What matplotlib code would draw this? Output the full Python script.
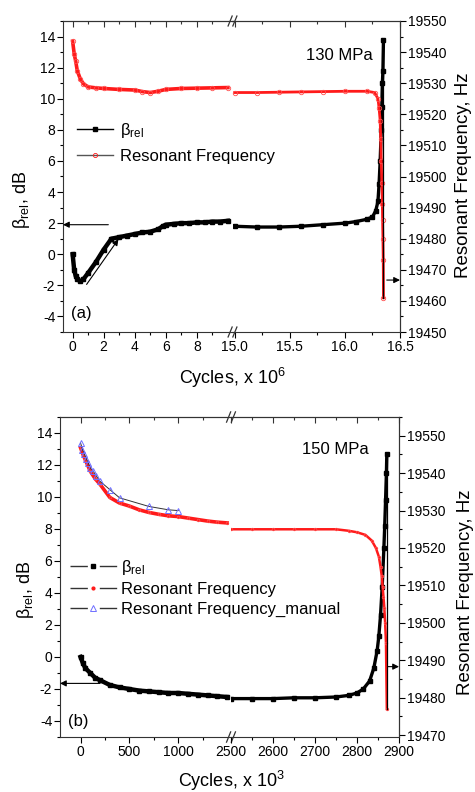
import matplotlib
matplotlib.use("Agg")
import matplotlib.pyplot as plt
from matplotlib.lines import Line2D
from matplotlib.ticker import MultipleLocator, FixedLocator, FormatStrFormatter

plt.rcParams['font.family'] = ['Liberation Sans', 'DejaVu Sans']
plt.rcParams['mathtext.fontset'] = 'custom'
plt.rcParams['mathtext.rm'] = 'Liberation Sans'
plt.rcParams['mathtext.it'] = 'Liberation Sans'
plt.rcParams['axes.unicode_minus'] = False

# ---- panel (a): 130 MPa, cycles x 10^6 ----
a_beta_x_left = [0.0, 0.1, 0.2, 0.3, 0.5, 0.7, 1.0, 1.5, 2.0, 2.5, 3.0, 3.5, 4.0, 4.5, 5.0, 5.5, 5.8, 6.0, 6.5, 7.0, 7.5, 8.0, 8.5, 9.0, 9.5, 10.0]
a_beta_left = [0.0, -1.0, -1.4, -1.6, -1.75, -1.6, -1.2, -0.5, 0.3, 1.0, 1.1, 1.2, 1.3, 1.4, 1.45, 1.6, 1.8, 1.9, 1.95, 2.0, 2.0, 2.05, 2.05, 2.1, 2.1, 2.15]
a_freq_x_left = [0.0, 0.1, 0.2, 0.3, 0.5, 0.7, 1.0, 1.5, 2.0, 3.0, 4.0, 4.5, 5.0, 5.5, 6.0, 7.0, 8.0, 9.0, 10.0]
a_freq_left = [19543.5, 19539.5, 19537.0, 19534.0, 19531.3, 19529.8, 19528.8, 19528.5, 19528.3, 19528.0, 19527.8, 19527.3, 19527.0, 19527.4, 19528.0, 19528.3, 19528.4, 19528.5, 19528.6]

a_beta_x_right = [15.0, 15.2, 15.4, 15.6, 15.8, 16.0, 16.1, 16.2, 16.25, 16.28, 16.3, 16.31, 16.32, 16.33, 16.335, 16.34, 16.345, 16.35]
a_beta_right = [1.8, 1.75, 1.75, 1.8, 1.9, 2.0, 2.1, 2.25, 2.4, 2.8, 3.4, 4.5, 6.0, 8.0, 9.5, 11.0, 11.8, 13.8]
a_freq_x_right = [15.0, 15.2, 15.4, 15.6, 15.8, 16.0, 16.2, 16.27, 16.3, 16.31, 16.32, 16.325, 16.33, 16.335, 16.34, 16.342, 16.345, 16.348, 16.35]
a_freq_right = [19527.0, 19527.0, 19527.1, 19527.2, 19527.3, 19527.4, 19527.4, 19527.0, 19525.0, 19522.0, 19518.0, 19512.0, 19505.0, 19498.0, 19491.0, 19486.0, 19480.0, 19473.0, 19461.0]

# ---- panel (b): 150 MPa, cycles x 10^3 ----
b_x_left = [0, 25, 50, 100, 150, 200, 300, 400, 500, 600, 700, 800, 900, 1000, 1100, 1200, 1300, 1400, 1500]
b_beta_left = [0.0, -0.4, -0.7, -1.0, -1.3, -1.45, -1.75, -1.9, -2.0, -2.1, -2.15, -2.2, -2.25, -2.25, -2.3, -2.35, -2.4, -2.45, -2.5]
b_freq_left = [19546.8, 19545.0, 19543.5, 19540.5, 19538.5, 19537.0, 19533.5, 19532.0, 19531.2, 19530.2, 19529.5, 19529.0, 19528.6, 19528.4, 19528.0, 19527.6, 19527.2, 19526.9, 19526.7]

b_beta_x_right = [2500, 2550, 2600, 2650, 2700, 2750, 2780, 2800, 2815, 2830, 2840, 2848, 2852, 2856, 2860, 2864, 2866, 2868, 2870, 2871]
b_beta_right = [-2.6, -2.6, -2.6, -2.55, -2.55, -2.5, -2.4, -2.25, -2.0, -1.5, -0.7, 0.4, 1.3, 2.6, 4.4, 6.8, 8.2, 9.8, 11.5, 12.7]
b_freq_x_right = [2500, 2550, 2600, 2650, 2700, 2750, 2780, 2800, 2820, 2835, 2845, 2852, 2856, 2859, 2861, 2863, 2865, 2867, 2869, 2871]
b_freq_right = [19525.0, 19525.0, 19525.0, 19525.0, 19525.0, 19525.0, 19524.6, 19524.2, 19523.5, 19522.0, 19520.0, 19517.7, 19515.0, 19512.4, 19509.7, 19507.0, 19504.0, 19500.0, 19494.7, 19477.0]

b_manual_x = [0, 20, 40, 60, 80, 100, 130, 160, 200, 300, 400, 700, 900, 1000]
b_manual_freq = [19548.1, 19546.3, 19545.0, 19543.8, 19542.7, 19541.4, 19540.5, 19539.3, 19537.8, 19535.6, 19533.4, 19531.1, 19530.2, 19530.0]

W, H = 475, 792
RED = '#ff1a1a'
BLUE = '#6f6fff'


def px_rect(left, right, top, bottom):
    return [left / W, 1 - bottom / H, (right - left) / W, (bottom - top) / H]


def style_axes(ax, xmaj, xmin, side):
    ax.xaxis.set_major_locator(FixedLocator(xmaj))
    ax.xaxis.set_minor_locator(FixedLocator(xmin))
    ax.tick_params(axis='x', which='major', direction='out', length=4, width=0.8, labelsize=10, pad=2)
    ax.tick_params(axis='x', which='minor', direction='out', length=2.5, width=0.8)
    top = ax.secondary_xaxis('top')
    top.xaxis.set_major_locator(FixedLocator(xmaj))
    top.xaxis.set_minor_locator(FixedLocator(xmin))
    top.tick_params(axis='x', which='both', direction='in', labeltop=False, color='#333333')
    top.tick_params(which='major', length=4, width=0.8)
    top.tick_params(which='minor', length=2.5, width=0.8)
    top.spines['top'].set_linewidth(0.8)
    top.spines['top'].set_color('#333333')
    for s in ax.spines.values():
        s.set_linewidth(0.8)
        s.set_color('#333333')
    if side == 'left':
        ax.spines['right'].set_visible(False)
        ax.yaxis.set_major_locator(MultipleLocator(2))
        ax.yaxis.set_minor_locator(MultipleLocator(1))
        ax.tick_params(axis='y', which='both', right=False, left=True)
        ax.tick_params(axis='y', which='major', direction='out', length=4, width=0.8, labelsize=10, pad=1.5)
        ax.tick_params(axis='y', which='minor', direction='out', length=2.5, width=0.8)
    else:
        ax.spines['left'].set_visible(False)
        ax.tick_params(axis='y', which='both', left=False, right=False, labelleft=False)
        ax.patch.set_visible(False)


def break_marks(ax):
    for dx in (-0.014, 0.014):
        for y0 in (0.0, 1.0):
            ax.plot([1 + dx - 0.012, 1 + dx + 0.012], [y0 - 0.016, y0 + 0.016],
                    transform=ax.transAxes, color='#333333', lw=0.9, clip_on=False, zorder=10)


def panel(fig, box, xl, xr, xticks_l, xticks_r, beta_lim, freq_lim, freq_major):
    left, brk, right, top, bottom = box
    axL = fig.add_axes(px_rect(left, brk, top, bottom))
    axR = fig.add_axes(px_rect(brk, right, top, bottom))
    axL2 = axL.twinx()
    axR2 = axR.twinx()
    axL.set_xlim(*xl)
    axR.set_xlim(*xr)
    axL.set_ylim(*beta_lim)
    axR.set_ylim(*beta_lim)
    axL2.set_ylim(*freq_lim)
    axR2.set_ylim(*freq_lim)
    style_axes(axL, xticks_l[0], xticks_l[1], 'left')
    style_axes(axR, xticks_r[0], xticks_r[1], 'right')
    for s in axL2.spines.values():
        s.set_visible(False)
    axL2.tick_params(axis='y', which='both', left=False, right=False, labelleft=False, labelright=False)
    for k in ('left', 'top', 'bottom'):
        axR2.spines[k].set_visible(False)
    axR2.spines['right'].set_linewidth(0.8)
    axR2.spines['right'].set_color('#333333')
    axR2.yaxis.set_major_locator(MultipleLocator(freq_major))
    axR2.yaxis.set_minor_locator(MultipleLocator(freq_major / 2))
    axR2.tick_params(axis='y', which='both', left=False)
    axR2.tick_params(axis='y', which='major', direction='out', length=4, width=0.8, labelsize=10, pad=2)
    axR2.tick_params(axis='y', which='minor', direction='out', length=2.5, width=0.8)
    break_marks(axL)
    return axL, axR, axL2, axR2


def drop_line(ax, ax2, x, beta_top, freq_bottom):
    # vertical line from last beta point down to last frequency point (drawn on frequency axis)
    top_hz = ax2.transData.inverted().transform(ax.transData.transform((x, beta_top)))[1]
    ax2.plot([x, x], [freq_bottom, top_hz], color='black', lw=0.9, zorder=5)


fig = plt.figure(figsize=(W / 100, H / 100), dpi=100)

# ================= panel (a) =================
axL, axR, axL2, axR2 = panel(fig, (63, 232.5, 400, 21, 332), (-0.62, 10.3), (14.98, 16.5),
                             ([0, 2, 4, 6, 8], [1, 3, 5, 7, 9]),
                             ([15.0, 15.5, 16.0, 16.5], [15.25, 15.75, 16.25]),
                             (-5, 15), (19450, 19550), 10)
axR.xaxis.set_major_formatter(FormatStrFormatter('%.1f'))

axL2.plot(a_freq_x_left, a_freq_left, color=RED, lw=2.6, marker='o', ms=3.2, mfc='none', mec='#ff5050', mew=0.6)
axR2.plot(a_freq_x_right, a_freq_right, color=RED, lw=2.0, marker='o', ms=3.2, mfc='none', mec='#ff5050', mew=0.6)
axL.plot(a_beta_x_left, a_beta_left, color='black', lw=3.2, marker='s', ms=2.2)
axR.plot(a_beta_x_right, a_beta_right, color='black', lw=2.4, marker='s', ms=2.2)
drop_line(axR, axR2, a_beta_x_right[-1], a_beta_right[-1], a_freq_right[-1])

arw = dict(arrowstyle='-|>', color='black', lw=0.8, mutation_scale=9, shrinkA=0, shrinkB=0)
axL.annotate('', xy=(0, 1.9), xycoords=('axes fraction', 'data'), xytext=(2.3, 1.9), textcoords='data', arrowprops=arw)
axL.annotate('', xy=(2.95, 0.97), xytext=(0.9, -1.94), arrowprops=arw)
axR2.annotate('', xy=(1, 19466.7), xycoords=('axes fraction', 'data'), xytext=(16.38, 19466.7), textcoords='data', arrowprops=arw)

axR.text(0.64, 0.89, '130 MPa', transform=axR.transAxes, ha='center', va='center', fontsize=12)
axL.text(0.106, 0.061, '(a)', transform=axL.transAxes, ha='center', va='center', fontsize=12)

hA = [Line2D([], [], color='black', lw=1.0, marker='s', ms=2.5),
      Line2D([], [], color='#555555', lw=1.0, marker='o', ms=3, mfc='none', mec=RED, mew=0.6)]
fig.legend(hA, ['β$_{\\rm rel}$', 'Resonant Frequency'], loc='center left',
           bbox_to_anchor=(77 / W, 1 - 142.5 / H), frameon=False, fontsize=12,
           handlelength=2.15, handletextpad=0.45, labelspacing=0.55, borderpad=0, borderaxespad=0)

fig.text(232 / W, 1 - 378 / H, 'Cycles, x 10$^6$', ha='center', va='center', fontsize=13)
fig.text(22 / W, 1 - 200 / H, 'β$_{\\rm rel}$, dB', ha='center', va='center', rotation=90, fontsize=13)
fig.text(463 / W, 1 - 175 / H, 'Resonant Frequency, Hz', ha='center', va='center', rotation=90, fontsize=13.5)

# ================= panel (b) =================
bxL, bxR, bxL2, bxR2 = panel(fig, (60, 231, 399, 417, 737), (-210, 1540), (2500, 2900),
                             ([0, 500, 1000], [250, 750, 1250]),
                             ([2500, 2600, 2700, 2800, 2900], [2550, 2650, 2750, 2850]),
                             (-5, 15), (19469.5, 19555), 10)

bxL2.plot(b_x_left, b_freq_left, color=RED, lw=2.6, marker='o', ms=2, mfc=RED, mec='#ff6060', mew=0.4)
bxR2.plot(b_freq_x_right, b_freq_right, color=RED, lw=1.8, marker='o', ms=2, mfc=RED, mec='#ff6060', mew=0.4)
bxL2.plot(b_manual_x, b_manual_freq, color='#333333', lw=0.7, marker='^', ms=4.5, mfc='none', mec=BLUE, mew=0.7)
bxL.plot(b_x_left, b_beta_left, color='black', lw=3.2, marker='s', ms=2.2)
bxR.plot(b_beta_x_right, b_beta_right, color='black', lw=2.4, marker='s', ms=2.2)
drop_line(bxR, bxR2, b_beta_x_right[-1], b_beta_right[-1], b_freq_right[-1])

bxL.annotate('', xy=(0, -1.65), xycoords=('axes fraction', 'data'), xytext=(200, -1.65), textcoords='data', arrowprops=arw)
bxR2.annotate('', xy=(1, 19488.3), xycoords=('axes fraction', 'data'), xytext=(2873, 19488.3), textcoords='data', arrowprops=arw)

bxR.text(0.62, 0.897, '150 MPa', transform=bxR.transAxes, ha='center', va='center', fontsize=12)
bxL.text(0.105, 0.047, '(b)', transform=bxL.transAxes, ha='center', va='center', fontsize=12)

# legend lines in (b) have a gap around the symbol
dash = (0, (12.5, 8.6))
hB = [Line2D([], [], color='#333333', lw=1.0, ls=dash, marker='s', ms=2.5, mfc='black', mec='black'),
      Line2D([], [], color='#333333', lw=1.0, ls=dash, marker='o', ms=2, mfc=RED, mec=RED),
      Line2D([], [], color='#333333', lw=1.0, ls=dash, marker='^', ms=4, mfc='none', mec=BLUE, mew=0.7)]
fig.legend(hB, ['β$_{\\rm rel}$', 'Resonant Frequency', 'Resonant Frequency_manual'], loc='center left',
           bbox_to_anchor=(70 / W, 1 - 587.5 / H), frameon=False, fontsize=12,
           handlelength=2.8, handletextpad=0.25, labelspacing=0.3, borderpad=0, borderaxespad=0)

fig.text(231 / W, 1 - 781 / H, 'Cycles, x 10$^3$', ha='center', va='center', fontsize=13)
fig.text(25 / W, 1 - 590 / H, 'β$_{\\rm rel}$, dB', ha='center', va='center', rotation=90, fontsize=13)
fig.text(465 / W, 1 - 592 / H, 'Resonant Frequency, Hz', ha='center', va='center', rotation=90, fontsize=13.5)

fig.savefig('out.png', dpi=100)
